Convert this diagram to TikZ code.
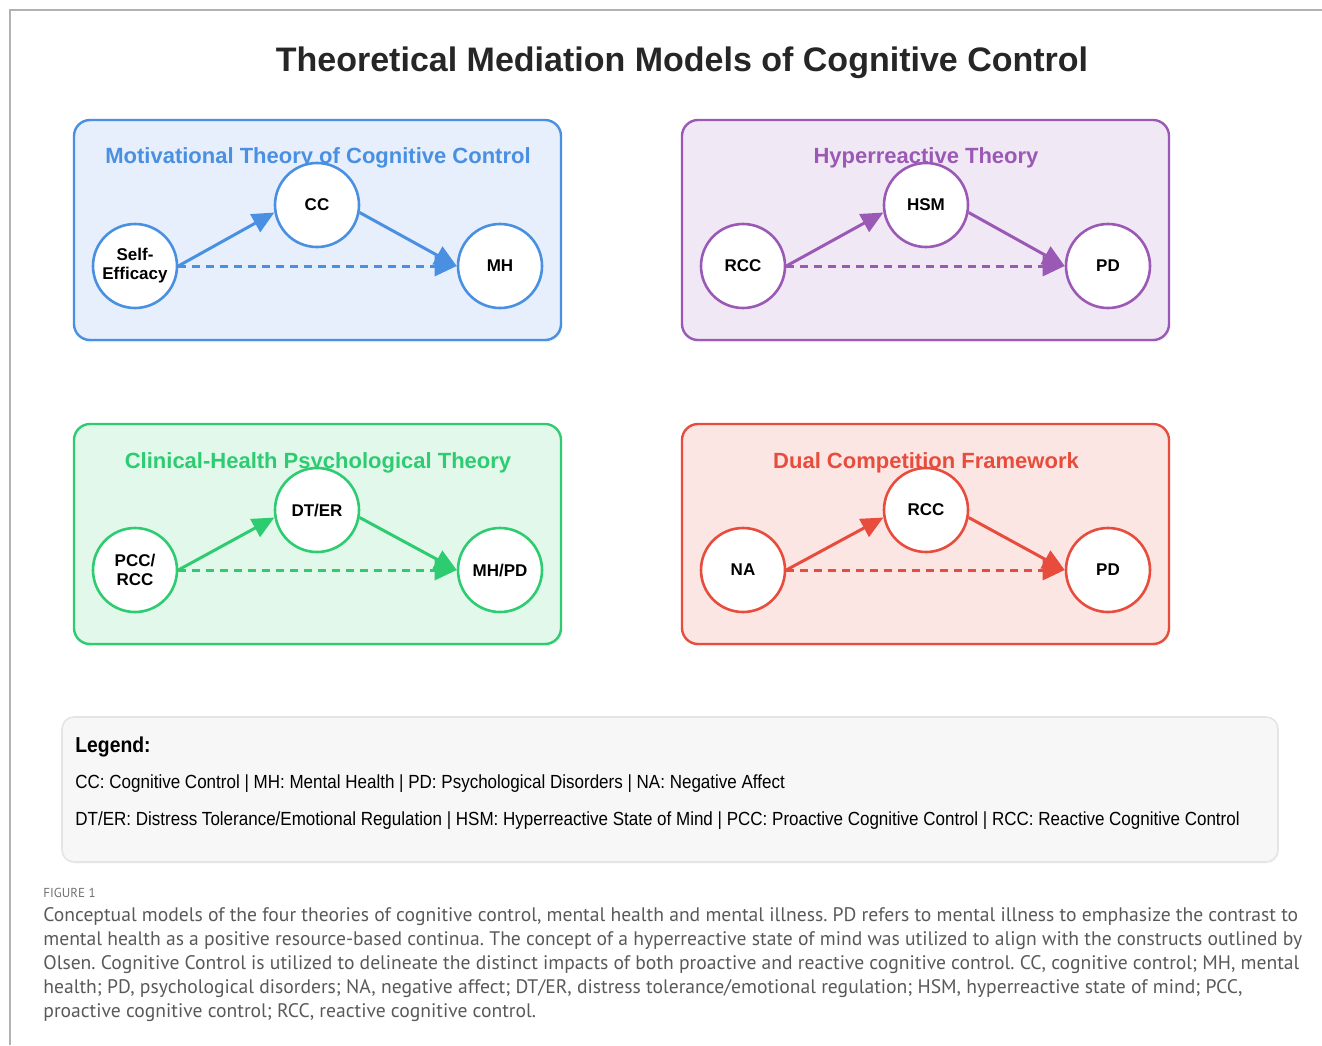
\documentclass[tikz,border=0pt]{standalone}
\usepackage{fontspec}
\setmainfont{Liberation Sans}
\newfontfamily\legendfont[FakeStretch=0.895]{Liberation Sans}
\newfontfamily\capfont{PT Sans}
\usetikzlibrary{arrows.meta,shadows}

\definecolor{mblue}{HTML}{4A90E2}
\definecolor{mpurple}{HTML}{9B59B6}
\definecolor{mgreen}{HTML}{2ECC71}
\definecolor{mred}{HTML}{E74C3C}
\definecolor{capgray}{HTML}{595959}

\begin{document}
\begin{tikzpicture}[
    x=0.5pt, y=-0.5pt,
    panel/.style={draw=#1, fill=#1!14, line width=1.2pt, rounded corners=8pt,
      drop shadow={opacity=0.12, shadow xshift=0.6pt, shadow yshift=-1.2pt}},
    ptitle/.style={text=#1, font=\fontsize{11}{13}\selectfont\bfseries},
    construct/.style={circle, draw=#1, fill=white, line width=1.3pt, minimum size=42pt,
      inner sep=0pt, align=center, font=\fontsize{8.5}{9.5}\selectfont\bfseries},
    link/.style={#1, line width=1.5pt, -{Triangle[length=11pt, width=10pt]}},
    direct/.style={#1, line width=1.5pt, dash pattern=on 4pt off 3pt,
      -{Triangle[length=11pt, width=10pt]}},
    legline/.style={anchor=west, inner sep=0pt, font=\legendfont\fontsize{9.5}{11}\selectfont}
  ]
    \useasboundingbox (0,0) rectangle (1322,1045);

    % Frame
    \draw[black!30, line width=1pt] (10,1045) -- (10,10) -- (1322,10);

    % Title
    \node[font=\fontsize{17}{20}\selectfont\bfseries, text=black!85] (title) at (682,63)
      {Theoretical Mediation Models of Cognitive Control};

    % Motivational theory
    \draw[panel=mblue] (74,120) rectangle (561,340);
    \node[ptitle=mblue] (mtitle) at (318,158) {Motivational Theory of Cognitive Control};
    \node[construct=mblue] (se) at (135,266) {Self-\\Efficacy};
    \node[construct=mblue] (cc) at (317,205) {CC};
    \node[construct=mblue] (mh) at (500,266) {MH};
    \draw[link=mblue] (se.east) -- (cc.190);
    \draw[link=mblue] (cc.-10) -- (mh.west);
    \draw[direct=mblue] (se.east) -- (mh.west);

    % Hyperreactive theory
    \draw[panel=mpurple] (682,120) rectangle (1169,340);
    \node[ptitle=mpurple] (htitle) at (926,158) {Hyperreactive Theory};
    \node[construct=mpurple] (rcc) at (743,266) {RCC};
    \node[construct=mpurple] (hsm) at (926,205) {HSM};
    \node[construct=mpurple] (pd) at (1108,266) {PD};
    \draw[link=mpurple] (rcc.east) -- (hsm.190);
    \draw[link=mpurple] (hsm.-10) -- (pd.west);
    \draw[direct=mpurple] (rcc.east) -- (pd.west);

    % Clinical-health psychological theory
    \draw[panel=mgreen] (74,424) rectangle (561,644);
    \node[ptitle=mgreen] (ctitle) at (318,463) {Clinical-Health Psychological Theory};
    \node[construct=mgreen] (pcc) at (135,570) {PCC/\\RCC};
    \node[construct=mgreen] (dter) at (317,510) {DT/ER};
    \node[construct=mgreen] (mhpd) at (500,570) {MH/PD};
    \draw[link=mgreen] (pcc.east) -- (dter.190);
    \draw[link=mgreen] (dter.-10) -- (mhpd.west);
    \draw[direct=mgreen] (pcc.east) -- (mhpd.west);

    % Dual competition framework
    \draw[panel=mred] (682,424) rectangle (1169,644);
    \node[ptitle=mred] (dtitle) at (926,463) {Dual Competition Framework};
    \node[construct=mred] (na) at (743,570) {NA};
    \node[construct=mred] (rcc2) at (926,510) {RCC};
    \node[construct=mred] (pd2) at (1108,570) {PD};
    \draw[link=mred] (na.east) -- (rcc2.190);
    \draw[link=mred] (rcc2.-10) -- (pd2.west);
    \draw[direct=mred] (na.east) -- (pd2.west);

    % Legend
    \draw[draw=black!10, fill=black!3, line width=0.8pt, rounded corners=6pt,
      drop shadow={opacity=0.06, shadow xshift=0.4pt, shadow yshift=-0.8pt}]
      (62,717) rectangle (1278,862);
    \node[legline, font=\legendfont\fontsize{10.8}{12}\selectfont\bfseries] (leghead) at (75,747) {Legend:};
    \node[legline] (leg1) at (75,784)
      {CC: Cognitive Control | MH: Mental Health | PD: Psychological Disorders | NA: Negative Affect};
    \node[legline] (leg2) at (75,821)
      {DT/ER: Distress Tolerance/Emotional Regulation | HSM: Hyperreactive State of Mind | PCC: Proactive Cognitive Control | RCC: Reactive Cognitive Control};

    % Caption
    \node[anchor=west, inner sep=0pt, text=capgray!85, font=\capfont\fontsize{6.5}{8}\selectfont] (fig) at (43,893) {FIGURE 1};
    \node[anchor=north west, inner sep=0pt, align=left, text=capgray,
      font=\capfont\fontsize{9.8}{12}\selectfont\frenchspacing] (caption) at (43,907)
      {Conceptual models of the four theories of cognitive control, mental health and mental illness. PD refers to mental illness to emphasize the contrast to\\
       mental health as a positive resource-based continua. The concept of a hyperreactive state of mind was utilized to align with the constructs outlined by\\
       Olsen. Cognitive Control is utilized to delineate the distinct impacts of both proactive and reactive cognitive control. CC, cognitive control; MH, mental\\
       health; PD, psychological disorders; NA, negative affect; DT/ER, distress tolerance/emotional regulation; HSM, hyperreactive state of mind; PCC,\\
       proactive cognitive control; RCC, reactive cognitive control.};
  \end{tikzpicture}
\end{document}
